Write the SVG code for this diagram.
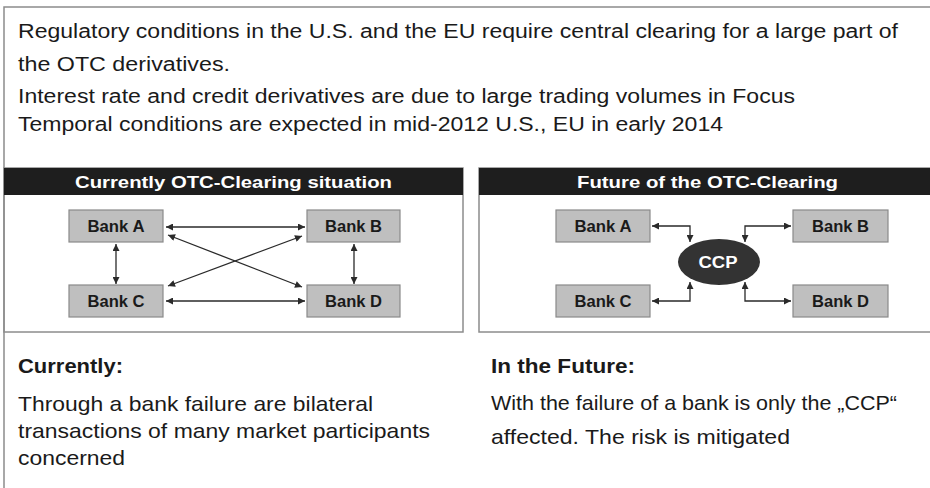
<svg xmlns="http://www.w3.org/2000/svg" width="930" height="488" viewBox="0 0 930 488">
<style>
  .txt{font-family:"Liberation Sans",Arial,sans-serif;fill:#1a1a1a}
  .top{font-size:20px}
  .bot{font-size:21px}
  .head{font-family:"Liberation Sans",Arial,sans-serif;font-size:17px;font-weight:bold;fill:#fff}
  .frame{fill:none;stroke:#8c8c8c;stroke-width:1.5}
  .hdr{fill:#1e1e1e}
  .box{fill:#bfbfbf;stroke:#8a8a8a;stroke-width:1.2}
  .lbl{font-family:"Liberation Sans",Arial,sans-serif;font-size:16.5px;font-weight:bold;fill:#1a1a1a;text-anchor:middle}
  .con{fill:none;stroke:#2a2a2a;stroke-width:1.3}
</style>
<defs>
  <marker id="ah" viewBox="0 0 10 10" refX="10" refY="5" markerWidth="8" markerHeight="7" markerUnits="userSpaceOnUse" orient="auto-start-reverse">
    <path d="M0,0 L10,5 L0,10 z" fill="#2a2a2a"/>
  </marker>
</defs>

<g id="frame">
  <path class="frame" d="M4,488 L4,7 L930,7"/>
</g>

<g id="intro">
  <text class="txt top" x="18" y="38" textLength="880" lengthAdjust="spacingAndGlyphs">Regulatory conditions in the U.S. and the EU require central clearing for a large part of</text>
  <text class="txt top" x="18" y="71" textLength="212" lengthAdjust="spacingAndGlyphs">the OTC derivatives.</text>
  <text class="txt top" x="18" y="103" textLength="777" lengthAdjust="spacingAndGlyphs">Interest rate and credit derivatives are due to large trading volumes in Focus</text>
  <text class="txt top" x="18" y="131" textLength="705" lengthAdjust="spacingAndGlyphs">Temporal conditions are expected in mid-2012 U.S., EU in early 2014</text>
</g>

<g id="panel-current">
  <rect class="frame" x="4" y="168" width="459" height="164"/>
  <rect class="hdr" x="4" y="168" width="459" height="27"/>
  <text class="head" x="233.5" y="188" text-anchor="middle" textLength="317" lengthAdjust="spacingAndGlyphs">Currently OTC-Clearing situation</text>
</g>

<g id="panel-future">
  <rect class="frame" x="479" y="168" width="460" height="164"/>
  <rect class="hdr" x="479" y="168" width="460" height="27"/>
  <text class="head" x="707.5" y="188" text-anchor="middle" textLength="261" lengthAdjust="spacingAndGlyphs">Future of the OTC-Clearing</text>
</g>

<g id="cur-bank-a"><rect class="box" x="69" y="210" width="94" height="32"/><text class="lbl" x="116" y="232" textLength="57" lengthAdjust="spacingAndGlyphs">Bank A</text></g>
<g id="cur-bank-b"><rect class="box" x="307" y="210" width="93" height="32"/><text class="lbl" x="353.5" y="232" textLength="57" lengthAdjust="spacingAndGlyphs">Bank B</text></g>
<g id="cur-bank-c"><rect class="box" x="69" y="285" width="94" height="32"/><text class="lbl" x="116" y="307" textLength="57" lengthAdjust="spacingAndGlyphs">Bank C</text></g>
<g id="cur-bank-d"><rect class="box" x="307" y="285" width="93" height="32"/><text class="lbl" x="353.5" y="307" textLength="57" lengthAdjust="spacingAndGlyphs">Bank D</text></g>

<g id="fut-bank-a"><rect class="box" x="556" y="210" width="94" height="32"/><text class="lbl" x="603" y="232" textLength="57" lengthAdjust="spacingAndGlyphs">Bank A</text></g>
<g id="fut-bank-b"><rect class="box" x="793" y="210" width="95" height="32"/><text class="lbl" x="840.5" y="232" textLength="57" lengthAdjust="spacingAndGlyphs">Bank B</text></g>
<g id="fut-bank-c"><rect class="box" x="556" y="285" width="94" height="32"/><text class="lbl" x="603" y="307" textLength="57" lengthAdjust="spacingAndGlyphs">Bank C</text></g>
<g id="fut-bank-d"><rect class="box" x="793" y="285" width="95" height="32"/><text class="lbl" x="840.5" y="307" textLength="57" lengthAdjust="spacingAndGlyphs">Bank D</text></g>

<g id="ccp">
  <ellipse cx="719" cy="262" rx="41" ry="23" fill="#333"/>
  <text x="718" y="268" font-family="'Liberation Sans',Arial,sans-serif" font-size="16" font-weight="bold" fill="#fff" text-anchor="middle" textLength="39" lengthAdjust="spacingAndGlyphs">CCP</text>
</g>

<g id="connectors">
  <line class="con" x1="166" y1="227" x2="305" y2="227" marker-start="url(#ah)" marker-end="url(#ah)"/>
  <line class="con" x1="166" y1="301" x2="305" y2="301" marker-start="url(#ah)" marker-end="url(#ah)"/>
  <line class="con" x1="116" y1="244" x2="116" y2="284" marker-start="url(#ah)" marker-end="url(#ah)"/>
  <line class="con" x1="354" y1="244" x2="354" y2="284" marker-start="url(#ah)" marker-end="url(#ah)"/>
  <line class="con" x1="168" y1="235" x2="302" y2="287" marker-start="url(#ah)" marker-end="url(#ah)"/>
  <line class="con" x1="302" y1="236" x2="168" y2="286" marker-start="url(#ah)" marker-end="url(#ah)"/>

  <path class="con" d="M652,226 L690,226 L690,242" marker-start="url(#ah)" marker-end="url(#ah)"/>
  <path class="con" d="M791,226 L745,226 L745,242" marker-start="url(#ah)" marker-end="url(#ah)"/>
  <path class="con" d="M652,301 L690,301 L690,282" marker-start="url(#ah)" marker-end="url(#ah)"/>
  <path class="con" d="M791,301 L745,301 L745,282" marker-start="url(#ah)" marker-end="url(#ah)"/>
</g>

<g id="notes-current">
  <text class="txt bot" x="18" y="373" font-weight="bold" textLength="105" lengthAdjust="spacingAndGlyphs">Currently:</text>
  <text class="txt bot" x="18" y="411" textLength="355" lengthAdjust="spacingAndGlyphs">Through a bank failure are bilateral</text>
  <text class="txt bot" x="18" y="438" textLength="412" lengthAdjust="spacingAndGlyphs">transactions of many market participants</text>
  <text class="txt bot" x="18" y="465" textLength="107" lengthAdjust="spacingAndGlyphs">concerned</text>
</g>

<g id="notes-future">
  <text class="txt bot" x="491" y="373" font-weight="bold" textLength="144" lengthAdjust="spacingAndGlyphs">In the Future:</text>
  <text class="txt bot" x="491" y="410" textLength="406" lengthAdjust="spacingAndGlyphs">With the failure of a bank is only the „CCP“</text>
  <text class="txt bot" x="491" y="444" textLength="299" lengthAdjust="spacingAndGlyphs">affected. The risk is mitigated</text>
</g>
</svg>
